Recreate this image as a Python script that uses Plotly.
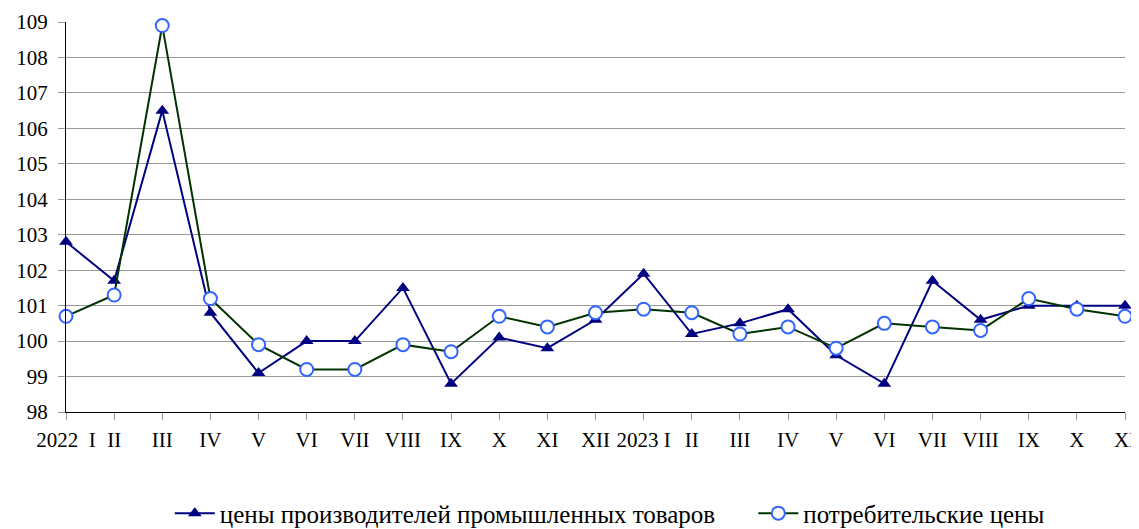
import plotly.graph_objects as go

labels = ["2022  I", "II", "III", "IV", "V", "VI", "VII", "VIII", "IX", "X", "XI", "XII",
          "2023 I", "II", "III", "IV", "V", "VI", "VII", "VIII", "IX", "X", "XI"]
producer = [102.8, 101.7, 106.5, 100.8, 99.1, 100.0, 100.0, 101.5, 98.8, 100.1, 99.8, 100.6,
            101.9, 100.2, 100.5, 100.9, 99.6, 98.8, 101.7, 100.6, 101.0, 101.0, 101.0]
consumer = [100.7, 101.3, 108.9, 101.2, 99.9, 99.2, 99.2, 99.9, 99.7, 100.7, 100.4, 100.8,
            100.9, 100.8, 100.2, 100.4, 99.8, 100.5, 100.4, 100.3, 101.2, 100.9, 100.7]
y_ticks = list(range(98, 110))
name_producer = "цены производителей промышленных товаров"
name_consumer = "потребительские цены"

x = list(range(len(labels)))
FONT = "Liberation Serif"

fig = go.Figure()
fig.add_trace(go.Scatter(
    x=x, y=producer, name=name_producer, mode="lines+markers",
    line=dict(color="#000080", width=2),
    marker=dict(symbol="triangle-up", size=12, color="#000080"),
    cliponaxis=False, legend="legend",
))
fig.add_trace(go.Scatter(
    x=x, y=consumer, name=name_consumer, mode="lines+markers",
    line=dict(color="#003300", width=2),
    marker=dict(symbol="circle", size=13, color="white",
                line=dict(color="#3366FF", width=2)),
    cliponaxis=False, legend="legend2",
))

leg_common = dict(orientation="h", xanchor="left", y=-0.26, yanchor="middle",
                  font=dict(family=FONT, size=25), itemwidth=40,
                  bgcolor="rgba(0,0,0,0)")

# page body has an 8px margin: figure is offset by (8, 8) in the window
fig.update_layout(
    width=1131, height=521,
    margin=dict(l=58, r=14, t=14, b=117, autoexpand=False),
    paper_bgcolor="white", plot_bgcolor="white",
    font=dict(family=FONT, size=21, color="black"),
    showlegend=True,
    legend=dict(x=0.098, **leg_common),
    legend2=dict(x=0.649, **leg_common),
)
fig.update_xaxes(
    range=[0, len(labels) - 1], tickmode="array", tickvals=x, ticktext=labels,
    showgrid=False, showline=True, linecolor="black", linewidth=1,
    ticks="outside", ticklen=7, tickcolor="#999999", zeroline=False,
    tickfont=dict(family=FONT, size=21), ticklabelstandoff=2, automargin=False,
    ticklabeloverflow="allow",
)
fig.update_yaxes(
    range=[98, 109], tickmode="array", tickvals=y_ticks,
    showgrid=True, gridcolor="#999999", gridwidth=1,
    showline=True, linecolor="black", linewidth=1,
    ticks="outside", ticklen=7, tickcolor="#999999", zeroline=False,
    tickfont=dict(family=FONT, size=21), ticklabelstandoff=6, automargin=False,
)

fig.write_html("out.html")
